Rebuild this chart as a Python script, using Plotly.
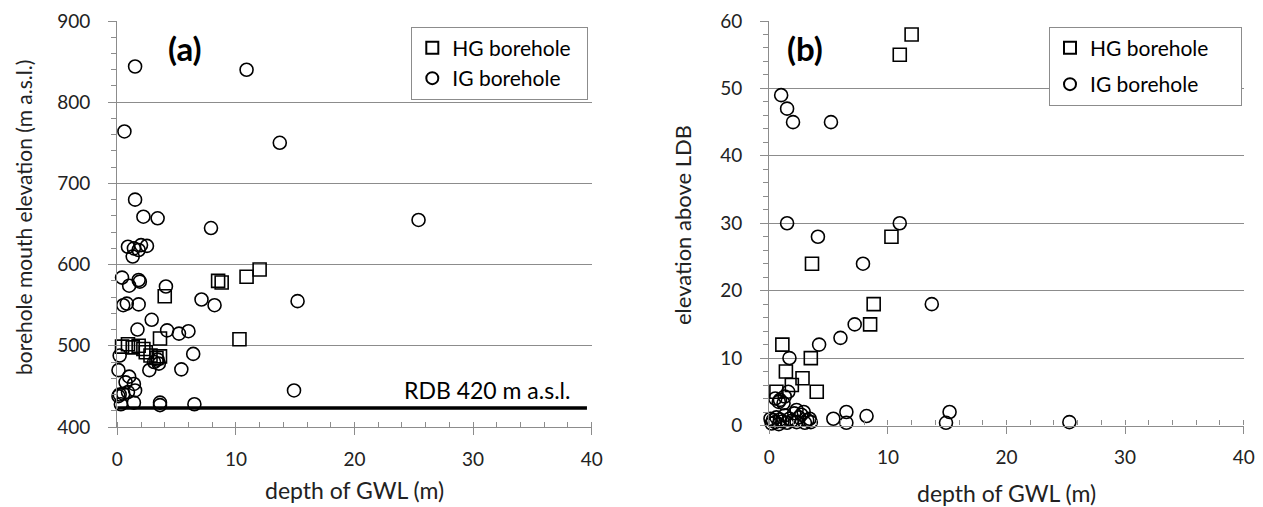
import plotly.graph_objects as go

# ---------------- data ----------------
# panel (a): depth of GWL (m) vs borehole mouth elevation (m a.s.l.)
hg_a_depth = [0.4, 0.9, 1.3, 1.8, 2.2, 2.4, 2.8, 3.3, 3.6, 3.6, 4.0, 8.5, 8.8, 10.3, 10.9, 12.0]
hg_a_elev = [499, 502, 498, 500, 496, 492, 488, 485, 487, 509, 561, 580, 578, 508, 585, 594]

ig_a_depth = [1.5, 10.9, 0.6, 13.7, 1.5, 2.2, 3.4, 25.4, 7.9, 0.9, 1.4, 2.0, 2.5, 1.3, 1.8,
              0.4, 1.0, 1.8, 1.9, 4.1, 0.5, 0.8, 1.8, 7.1, 8.2, 15.2, 2.9, 1.7, 4.2, 5.2,
              6.0, 0.2, 3.1, 3.4, 3.5, 2.7, 6.4, 5.4, 0.1, 1.0, 0.7, 1.4, 1.5, 0.9, 0.2,
              0.5, 14.9, 0.3, 1.4, 3.6, 3.6, 6.5, 0.1]
ig_a_elev = [844, 840, 764, 750, 680, 659, 657, 655, 645, 622, 620, 624, 623, 610, 618,
             584, 574, 581, 579, 573, 550, 552, 551, 557, 550, 555, 532, 520, 519, 515,
             518, 488, 480, 483, 478, 470, 490, 471, 470, 462, 455, 453, 445, 443, 440,
             441, 445, 428, 430, 430, 427, 428, 438]

rdb_level = 423.5          # drawn position of the RDB line
rdb_x = [0, 39.6]
rdb_label = "RDB 420 m a.s.l."

# panel (b): depth of GWL (m) vs elevation above LDB
hg_b_depth = [12.0, 11.0, 10.3, 3.6, 8.8, 8.5, 1.1, 3.5, 1.4, 2.8, 1.9, 4.0, 0.6]
hg_b_elev = [58, 55, 28, 24, 18, 15, 12, 10, 8, 7, 6, 5, 5]

ig_b_depth = [1.0, 1.5, 2.0, 5.2, 1.5, 11.0, 4.1, 7.9, 13.7, 7.2, 6.0, 4.2, 1.7,
              0.5, 0.9, 1.3, 1.6, 0.8, 1.2,
              2.9, 2.3, 5.4, 6.5, 6.5, 8.2, 15.2, 14.9, 25.3,
              0.1, 0.2, 0.3, 0.5, 0.6, 0.8, 0.9, 1.1, 1.3, 1.5, 1.7, 1.9, 2.1, 2.3,
              2.5, 2.7, 3.0, 3.2, 3.4, 3.5]
ig_b_elev = [49, 47, 45, 45, 30, 30, 28, 24, 18, 15, 13, 12, 10,
             4.0, 3.8, 4.3, 5.0, 3.5, 3.3,
             2.0, 2.3, 1.0, 2.0, 0.4, 1.4, 2.0, 0.4, 0.5,
             1.0, 0.3, 0.8, 0.5, 1.2, 0.2, 0.9, 0.6, 1.5, 0.4, 1.0, 0.7, 1.8, 0.5,
             1.2, 1.6, 0.4, 0.8, 1.0, 0.5]

x_ticks = [0, 10, 20, 30, 40]
y_ticks_a = [400, 500, 600, 700, 800, 900]
y_ticks_b = [0, 10, 20, 30, 40, 50, 60]

# ---------------- style ----------------
FONT = "Lato, 'Open Sans', sans-serif"
GRAY = "#8c8c8c"
mk_sq = dict(symbol="square-open", size=13, color="black", line=dict(width=1.6, color="black"))
mk_ci = dict(symbol="circle-open", size=13, color="black", line=dict(width=1.6, color="black"))
PAD_A = "\u00a0" * 2
PAD_B = "\u00a0" * 5

fig = go.Figure()

fig.add_trace(go.Scatter(x=rdb_x, y=[rdb_level, rdb_level], mode="lines",
                         line=dict(color="black", width=3.5), showlegend=False,
                         xaxis="x", yaxis="y", hoverinfo="skip"))
fig.add_trace(go.Scatter(x=hg_a_depth, y=hg_a_elev, mode="markers", name="HG borehole" + PAD_A,
                         marker=mk_sq, xaxis="x", yaxis="y", legend="legend", cliponaxis=False))
fig.add_trace(go.Scatter(x=ig_a_depth, y=ig_a_elev, mode="markers", name="IG borehole" + PAD_A,
                         marker=mk_ci, xaxis="x", yaxis="y", legend="legend", cliponaxis=False))
fig.add_trace(go.Scatter(x=hg_b_depth, y=hg_b_elev, mode="markers", name="HG borehole" + PAD_B,
                         marker=mk_sq, xaxis="x2", yaxis="y2", legend="legend2",
                         legendgroup="b1", cliponaxis=False))
fig.add_trace(go.Scatter(x=ig_b_depth, y=ig_b_elev, mode="markers", name="IG borehole" + PAD_B,
                         marker=mk_ci, xaxis="x2", yaxis="y2", legend="legend2",
                         legendgroup="b2", cliponaxis=False))

W, H = 1263, 507
xa_dom = [117.3 / W, 591.7 / W]
xb_dom = [769.3 / W, 1243.7 / W]
ya_dom = [(H - 427) / H, (H - 21) / H]
yb_dom = [(H - 425.5) / H, (H - 21) / H]

def xaxis_cfg(dom, anchor):
    return dict(domain=dom, anchor=anchor, range=[0, 40], tickvals=x_ticks, automargin=False,
                showgrid=False, zeroline=False, showline=True, linecolor=GRAY, linewidth=1.3,
                ticks="outside", ticklen=7, tickcolor=GRAY, tickwidth=1.3,
                minor=dict(dtick=2, ticks="inside", ticklen=5, tickcolor=GRAY, tickwidth=1, showgrid=False),
                tickfont=dict(family=FONT, size=19, color="#222"), ticklabelstandoff=8)

def yaxis_cfg(dom, anchor, rng, ticks, mdt):
    return dict(domain=dom, anchor=anchor, range=rng, tickvals=ticks, automargin=False,
                showgrid=True, gridcolor=GRAY, gridwidth=1.3, zeroline=False,
                showline=True, linecolor=GRAY, linewidth=1.3,
                ticks="outside", ticklen=8, tickcolor=GRAY, tickwidth=1.3,
                minor=dict(dtick=mdt, ticks="outside", ticklen=5, tickcolor=GRAY, tickwidth=1, showgrid=False),
                tickfont=dict(family=FONT, size=19, color="#222"), ticklabelstandoff=14)

legend_common = dict(bgcolor="white", bordercolor=GRAY, borderwidth=1,
                     font=dict(family=FONT, size=21, color="black"),
                     xanchor="right", yanchor="top", itemsizing="constant", itemwidth=30)

fig.update_layout(
    width=W, height=H, margin=dict(l=0, r=0, t=0, b=0),
    paper_bgcolor="white", plot_bgcolor="white",
    xaxis=xaxis_cfg(xa_dom, "y"),
    yaxis=yaxis_cfg(ya_dom, "x", [400, 900], y_ticks_a, 20),
    xaxis2=xaxis_cfg(xb_dom, "y2"),
    yaxis2=yaxis_cfg(yb_dom, "x2", [0, 60], y_ticks_b, 2),
    legend=dict(x=588.3 / W, y=(H - 26.7) / H, **legend_common),
    legend2=dict(x=1242 / W, y=(H - 26.7) / H, tracegroupgap=6, **legend_common),
    annotations=[
        dict(text="<b>(a)</b>", x=185 / W, y=(H - 48) / H, xref="paper", yref="paper",
             showarrow=False, font=dict(family=FONT, size=33, color="black"), xanchor="center", yanchor="middle"),
        dict(text="<b>(b)</b>", x=805 / W, y=(H - 48) / H, xref="paper", yref="paper",
             showarrow=False, font=dict(family=FONT, size=33, color="black"), xanchor="center", yanchor="middle"),
        dict(text=rdb_label, x=38.3, y=rdb_level, xref="x", yref="y", xanchor="right", yanchor="bottom",
             yshift=2, showarrow=False, font=dict(family=FONT, size=23, color="black")),
        dict(text="depth of GWL (m)", x=(117.3 + 591.7) / 2 / W, y=(H - 490) / H, xref="paper", yref="paper",
             showarrow=False, font=dict(family=FONT, size=23, color="#222"), xanchor="center", yanchor="middle"),
        dict(text="depth of GWL (m)", x=(769.3 + 1243.7) / 2 / W, y=(H - 493) / H, xref="paper", yref="paper",
             showarrow=False, font=dict(family=FONT, size=23, color="#222"), xanchor="center", yanchor="middle"),
        dict(text="borehole mouth elevation (m a.s.l.)", x=23 / W, y=(H - 218) / H, xref="paper", yref="paper",
             showarrow=False, textangle=-90, font=dict(family=FONT, size=21, color="#222"),
             xanchor="center", yanchor="middle"),
        dict(text="elevation above LDB", x=682 / W, y=(H - 225) / H, xref="paper", yref="paper",
             showarrow=False, textangle=-90, font=dict(family=FONT, size=22, color="#222"),
             xanchor="center", yanchor="middle"),
    ],
)

fig.write_html("out.html")
